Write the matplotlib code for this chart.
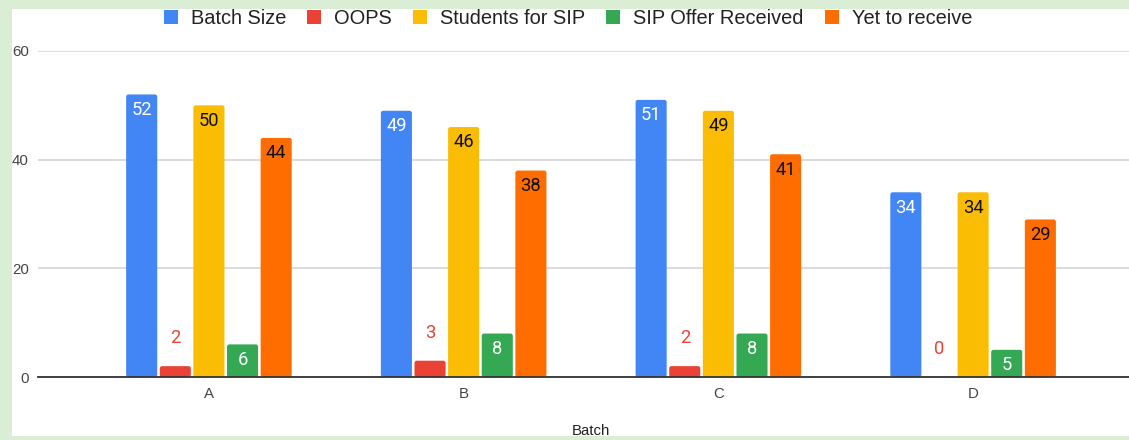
import numpy as np
import matplotlib.pyplot as plt
from matplotlib.patches import Rectangle, FancyBboxPatch

plt.rcParams['font.family'] = ['Liberation Sans', 'DejaVu Sans']

batches = ['A', 'B', 'C', 'D']
batch_size = [52, 49, 51, 34]
oops = [2, 3, 2, 0]
students_sip = [50, 46, 49, 34]
offer_received = [6, 8, 8, 5]
yet_to_receive = [44, 38, 41, 29]

series = [
    ('Batch Size', batch_size, '#4285F4', 'white', True),
    ('OOPS', oops, '#EA4335', '#EA4335', False),
    ('Students for SIP', students_sip, '#FBBC04', '#111111', True),
    ('SIP Offer Received', offer_received, '#34A853', 'white', True),
    ('Yet to receive', yet_to_receive, '#FF6D01', '#111111', True),
]

fig = plt.figure(figsize=(11.29, 4.4), dpi=100, facecolor='white')
ax = fig.add_axes([38 / 1129, 63 / 440, 1 - 38 / 1129, (377 - 51) / 440])

x = np.arange(len(batches))
width = 0.122
pitch = 0.132
handles = []
for i, (name, vals, color, lcolor, inside) in enumerate(series):
    pos = x + (i - 2) * pitch
    bars = ax.bar(pos, vals, width, color=color, label=name, zorder=3)
    handles.append(bars)
    # swap the plain rectangles for slightly rounded ones
    for r in bars:
        r.set_visible(False)
        if r.get_height() == 0:
            continue
        ax.add_patch(FancyBboxPatch((r.get_x(), 0), r.get_width(), r.get_height(),
                                    boxstyle='round,pad=0,rounding_size=0.009',
                                    mutation_aspect=46.9, facecolor=color,
                                    edgecolor='none', zorder=3))
    for p, v in zip(pos, vals):
        off = -11 if inside else 20
        ax.annotate(str(v), (p, v), xytext=(0, off), textcoords='offset points',
                    ha='center', va='center', color=lcolor, fontsize=13.2,
                    family=['Roboto', 'DejaVu Sans'], zorder=4)

ax.set_ylim(0, 60)
ax.set_xlim(-0.671, 3.612)
ax.set_yticks([0, 20, 40, 60])
ax.set_xticks(x)
ax.set_xticklabels(batches)
ax.grid(axis='y', color='#d9d9d9', linewidth=1.3, zorder=0)
ax.tick_params(length=0, labelsize=10.8, labelcolor='#444444')
ax.tick_params(axis='y', pad=6.5)
ax.tick_params(axis='x', pad=7)
for s in ['top', 'right', 'left']:
    ax.spines[s].set_visible(False)
ax.spines['bottom'].set_color('#333333')
ax.spines['bottom'].set_linewidth(1.3)
ax.spines['bottom'].set_zorder(5)

fig.text(591 / 1129, 9 / 440, 'Batch', ha='center', va='center',
         fontsize=10.8, color='#222222')

leg = fig.legend(handles=handles, loc='center', bbox_to_anchor=(568 / 1129, 1 - 19 / 440),
                 ncol=5, frameon=False, fontsize=14.4, handlelength=0.7, handleheight=0.7,
                 handletextpad=0.65, columnspacing=1.05, labelcolor='#222222')
for h in leg.legend_handles:
    h.set_visible(True)

# green frame around the screenshot
green = '#d9eed4'
for rect in [(0, 0, 12 / 1129, 1), (0, 1 - 9 / 440, 1, 9 / 440), (0, 0, 1, 4 / 440)]:
    fig.add_artist(Rectangle(rect[:2], rect[2], rect[3], transform=fig.transFigure,
                             facecolor=green, edgecolor='none', zorder=10))

fig.savefig('out.png', dpi=100)
